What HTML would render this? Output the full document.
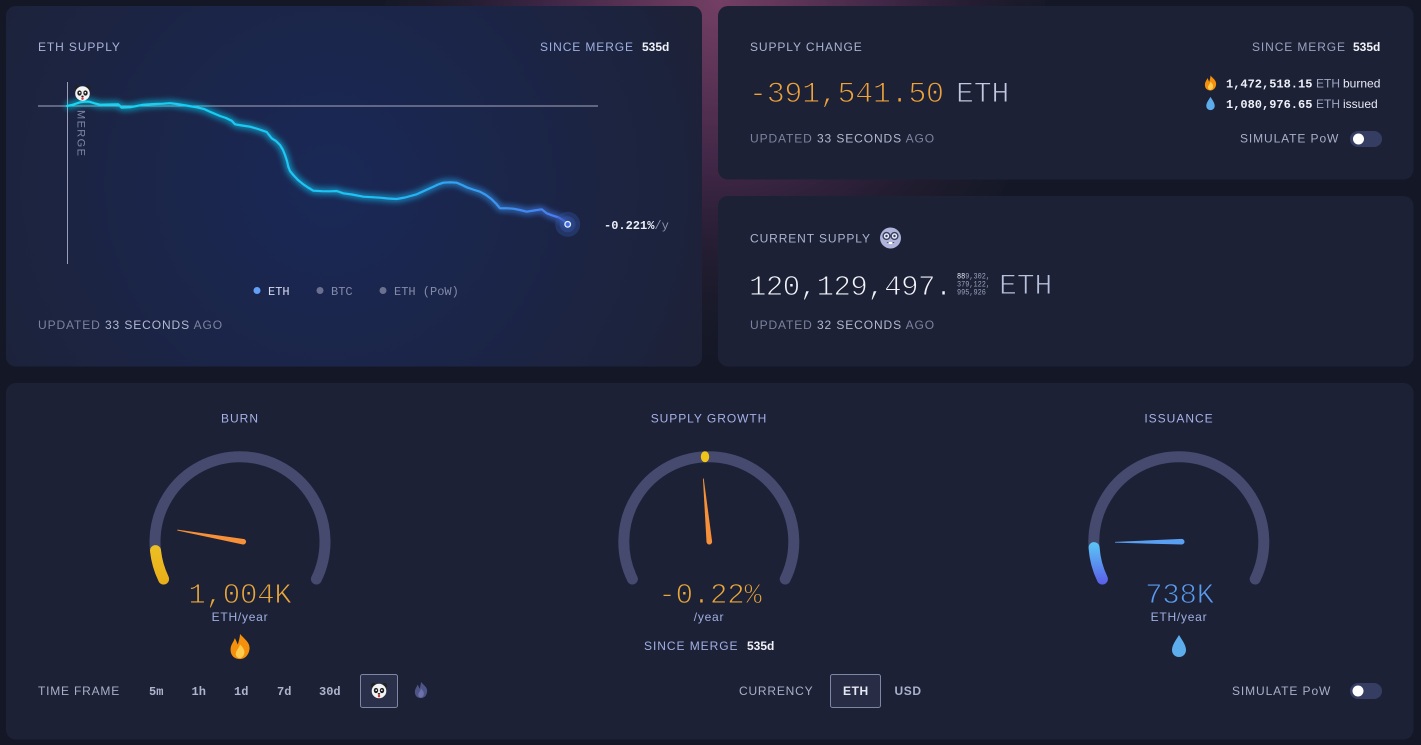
<!DOCTYPE html>
<html><head><meta charset="utf-8"><style>
html,body{margin:0;padding:0;background:#141826;width:1421px;height:745px;overflow:hidden}
svg{display:block}
.s{font-family:"Liberation Sans",sans-serif}
.m{font-family:"Liberation Mono",monospace}
</style></head><body>
<svg width="1421" height="745" viewBox="0 0 1421 745" xmlns="http://www.w3.org/2000/svg">
<defs>
<radialGradient id="pink" cx="720" cy="0" r="380" gradientUnits="userSpaceOnUse">
<stop offset="0" stop-color="#743f64"/><stop offset="0.45" stop-color="#3f2646"/><stop offset="1" stop-color="#141826" stop-opacity="0"/>
</radialGradient>
<radialGradient id="cardglow" cx="330" cy="185" r="400" gradientUnits="userSpaceOnUse">
<stop offset="0" stop-color="#1a2857"/><stop offset="0.5" stop-color="#1b2548"/><stop offset="1" stop-color="#1d2238"/>
</radialGradient>
<linearGradient id="lineg" x1="67" y1="0" x2="568" y2="0" gradientUnits="userSpaceOnUse">
<stop offset="0" stop-color="#16d6f2"/><stop offset="0.6" stop-color="#1cc2f4"/><stop offset="0.85" stop-color="#3a96f2"/><stop offset="1" stop-color="#4b78f0"/>
</linearGradient>
<linearGradient id="yel" x1="0" y1="585" x2="0" y2="528" gradientUnits="userSpaceOnUse">
<stop offset="0" stop-color="#e9ae18"/><stop offset="1" stop-color="#efc82a"/>
</linearGradient>
<linearGradient id="blu" x1="0" y1="585" x2="0" y2="542" gradientUnits="userSpaceOnUse">
<stop offset="0" stop-color="#5a5ce8"/><stop offset="1" stop-color="#5ac8f6"/>
</linearGradient>
<filter id="glow" x="-10%" y="-40%" width="120%" height="180%">
<feGaussianBlur in="SourceGraphic" stdDeviation="3.5" result="b"/>
<feMerge><feMergeNode in="b"/><feMergeNode in="b"/><feMergeNode in="SourceGraphic"/></feMerge>
</filter>
<g id="fire">
<path d="M0,-12 C4,-7 10,-4 9,3 C8,9 4,12 0,12 C-5,12 -9,9 -9,3 C-9,-2 -6,-4 -5,-8 C-3,-5 -3,-3 -2,-2 C-1,-6 0,-9 0,-12 Z" fill="#f4900c"/>
<path d="M0,-2 C3,1 5,4 4,7 C3,10 1,11 0,11 C-2,11 -4,10 -4,7 C-4,4 -1,2 0,-2Z" fill="#ffcc4d"/>
</g>
<path id="drop" d="M0,-11 C3,-6 7,-1 7,4 C7,8 4,11 0,11 C-4,11 -7,8 -7,4 C-7,-1 -3,-6 0,-11Z" fill="#5dadec"/>
<g id="panda">
<circle cx="-5.5" cy="-5.5" r="2.6" fill="#222"/>
<circle cx="5.5" cy="-5.5" r="2.6" fill="#222"/>
<circle cx="0" cy="0" r="7.3" fill="#f4f4f4"/>
<ellipse cx="-3" cy="-0.5" rx="2.2" ry="2.6" fill="#222"/>
<ellipse cx="3" cy="-0.5" rx="2.2" ry="2.6" fill="#222"/>
<circle cx="-2.8" cy="-0.8" r="0.8" fill="#fff"/>
<circle cx="2.8" cy="-0.8" r="0.8" fill="#fff"/>
<ellipse cx="0" cy="2.8" rx="1.3" ry="0.8" fill="#222"/>
<ellipse cx="0" cy="5" rx="1.2" ry="1.4" fill="#e0303a"/>
</g>
</defs>

<!-- page background -->
<rect width="1421" height="745" fill="#141826"/>
<ellipse cx="715" cy="0" rx="330" ry="390" fill="url(#pink)"/>

<!-- cards -->
<rect x="6" y="6" width="696" height="360.5" rx="10" fill="url(#cardglow)"/>
<rect x="718" y="6" width="695.5" height="173.5" rx="10" fill="#1c2136"/>
<rect x="718" y="196" width="695.5" height="170.5" rx="10" fill="#1c2136"/>
<rect x="6" y="383" width="1407.5" height="356.5" rx="10" fill="#1c2136"/>

<!-- ===== ETH SUPPLY CARD ===== -->
<text x="38" y="51" class="s" font-size="12" fill="#aab3d8" style="letter-spacing:0.9px">ETH SUPPLY</text>
<text x="540" y="51" class="s" font-size="12" fill="#9fb0e0" style="letter-spacing:0.9px">SINCE MERGE</text>
<text x="642" y="51" class="s" font-size="12" font-weight="bold" fill="#f0f2f8">535d</text>

<line x1="38" y1="106" x2="598" y2="106" stroke="#a4a8bc" stroke-width="1"/>
<line x1="67.5" y1="82" x2="67.5" y2="264" stroke="#9a9eb6" stroke-width="1"/>
<text transform="translate(77.5,110) rotate(90)" class="s" font-size="11" fill="#7e86a6" style="letter-spacing:1.4px">MERGE</text>

<path filter="url(#glow)" fill="none" stroke="url(#lineg)" stroke-width="2.2" stroke-linejoin="round" stroke-linecap="round"
d="M67,106 L72,105 L80,102.3 L85,101.5 L89.3,101.7 L95,103.5 L100,104.7 L110,104.5 L118.3,104.3 L121.7,107.7 L130,107.3 L143.3,104.7 L155,104 L163.3,103.7 L170,103.2 L176.7,104 L186,105.5 L196.7,107.3 L204,109 L210,111.7 L220,116 L226,118 L231.7,120.7 L235,124.3 L242,125.5 L250,126.7 L258,129 L266.7,132 L271.7,138.3 L276,141 L280,145 L283,150 L285,155 L287,161 L288.3,166.7 L290,171 L293.3,175 L298,180 L303.3,184.3 L308,187.5 L313.3,190.7 L322,191.2 L330,191.3 L336.7,191 L343.3,193.3 L352,194.5 L363.3,196.7 L372,197.2 L380,197.7 L388,198.5 L396.7,199 L405,197.5 L416.7,194.3 L425,190.5 L433.3,186.7 L438,184.5 L443.3,182.7 L450,182.3 L456.7,182.7 L462,185 L466.7,187.3 L473,189.5 L480,191.7 L486,195 L491.7,199.3 L496,203.5 L500,208.3 L506,208.2 L513.3,208.7 L520,210 L526.7,211.7 L534,210.5 L541.7,209.3 L546.7,213.3 L552,215.3 L558.3,217.3 L563,220 L567.7,224.3"/>
<circle cx="567.7" cy="224.3" r="12.5" fill="#3557a8" fill-opacity="0.35"/>
<circle cx="567.7" cy="224.3" r="8" fill="#3a5cb0" fill-opacity="0.35"/>
<circle cx="567.7" cy="224.3" r="2.8" fill="#3f6ee0" stroke="#e6ecff" stroke-width="1.3"/>

<use href="#panda" x="82.5" y="93.5"/>

<text x="604" y="229" class="m" font-size="12"><tspan font-weight="bold" fill="#eef0f8">-0.221%</tspan><tspan fill="#8a92ac">/y</tspan></text>

<circle cx="257" cy="290.5" r="3.5" fill="#62a0f8"/>
<text x="268" y="295" class="m" font-size="12" fill="#d4daf0">ETH</text>
<circle cx="320" cy="290.5" r="3.5" fill="#6a7090"/>
<text x="331" y="295" class="m" font-size="12" fill="#848ba8">BTC</text>
<circle cx="383" cy="290.5" r="3.5" fill="#6a7090"/>
<text x="394" y="295" class="m" font-size="12" fill="#848ba8">ETH (PoW)</text>

<text x="38" y="329" class="s" font-size="12" style="letter-spacing:0.9px"><tspan fill="#7d839e">UPDATED </tspan><tspan fill="#b3b9d0">33 SECONDS </tspan><tspan fill="#7d839e">AGO</tspan></text>

<!-- ===== SUPPLY CHANGE CARD ===== -->
<text x="750" y="51" class="s" font-size="12" fill="#aab3d0" style="letter-spacing:0.9px">SUPPLY CHANGE</text>
<text x="1252" y="51" class="s" font-size="12" fill="#9aa2c0" style="letter-spacing:0.9px">SINCE MERGE</text>
<text x="1353" y="51" class="s" font-size="12" font-weight="bold" fill="#f0f2f8">535d</text>

<text x="749" y="102" class="m" font-size="30" fill="#eea33a" stroke="#1c2136" stroke-width="1" style="letter-spacing:-0.3px">-391,541.50</text>
<text x="956" y="102" class="m" font-size="30" fill="#c2c8e0" stroke="#1c2136" stroke-width="1" style="letter-spacing:-0.3px">ETH</text>

<use href="#fire" transform="translate(1210.5,83) scale(0.62)"/>
<text x="1226" y="87.5" class="m" font-size="12" font-weight="bold" fill="#eef0f8">1,472,518.15</text>
<text x="1316" y="87.5" class="s" font-size="12" fill="#a0a8c4">ETH</text>
<text x="1343" y="87.5" class="s" font-size="12" fill="#e8eaf4">burned</text>
<use href="#drop" transform="translate(1210.5,103.5) scale(0.6)"/>
<text x="1226" y="108" class="m" font-size="12" font-weight="bold" fill="#eef0f8">1,080,976.65</text>
<text x="1316" y="108" class="s" font-size="12" fill="#a0a8c4">ETH</text>
<text x="1343" y="108" class="s" font-size="12" fill="#e8eaf4">issued</text>

<text x="750" y="142.5" class="s" font-size="12" style="letter-spacing:0.9px"><tspan fill="#7d839e">UPDATED </tspan><tspan fill="#b3b9d0">33 SECONDS </tspan><tspan fill="#7d839e">AGO</tspan></text>

<text x="1240" y="142.5" class="s" font-size="12" fill="#a9afc8" style="letter-spacing:0.9px">SIMULATE PoW</text>
<rect x="1350" y="131" width="32" height="16" rx="8" fill="#353e62"/>
<circle cx="1358.5" cy="139" r="5.5" fill="#ffffff"/>

<!-- ===== CURRENT SUPPLY CARD ===== -->
<text x="750" y="242.5" class="s" font-size="12" fill="#aab3d0" style="letter-spacing:0.9px">CURRENT SUPPLY</text>
<g transform="translate(890.5,238)">
<circle r="10.5" fill="#aeb4da"/>
<circle cx="-4" cy="-2" r="3.4" fill="#e8ecff" stroke="#3a3f5a" stroke-width="1.4"/>
<circle cx="4" cy="-2" r="3.4" fill="#e8ecff" stroke="#3a3f5a" stroke-width="1.4"/>
<circle cx="-4" cy="-2" r="1.2" fill="#3a3f5a"/>
<circle cx="4" cy="-2" r="1.2" fill="#3a3f5a"/>
<path d="M-4,4 Q0,8 4,4 Z" fill="#3a3f5a"/>
<rect x="-2" y="4" width="4" height="2" fill="#fff"/>
</g>

<text x="749" y="295" class="m" font-size="29" fill="#f2f4fa" stroke="#1c2136" stroke-width="0.9" style="letter-spacing:-0.5px">120,129,497.</text>
<g transform="translate(957,0) scale(0.86,1)">
<text x="0" y="278.5" class="m" font-size="8" fill="#9aa0bc"><tspan fill="#e8eaf4">88</tspan>9,302,</text>
<text x="0" y="286.5" class="m" font-size="8" fill="#9aa0bc">379,122,</text>
<text x="0" y="294.5" class="m" font-size="8" fill="#9aa0bc">995,926</text>
</g>
<text x="999" y="294" class="m" font-size="30" fill="#b8c0dc" stroke="#1c2136" stroke-width="1" style="letter-spacing:-0.3px">ETH</text>

<text x="750" y="329" class="s" font-size="12" style="letter-spacing:0.9px"><tspan fill="#7d839e">UPDATED </tspan><tspan fill="#b3b9d0">32 SECONDS </tspan><tspan fill="#7d839e">AGO</tspan></text>

<!-- ===== GAUGES ===== -->
<!-- Burn -->
<text x="240" y="422.5" text-anchor="middle" class="s" font-size="12" fill="#a5b1e8" style="letter-spacing:1px">BURN</text>
<path d="M163.6,579 A85,85 0 1 1 316.4,579" fill="none" stroke="#464a6f" stroke-width="11" stroke-linecap="round"/>
<path d="M163.6,579 A85,85 0 0 1 155.5,550.6" fill="none" stroke="url(#yel)" stroke-width="11" stroke-linecap="round"/>
<g transform="translate(243.3,541.7) rotate(190)">
<path d="M0,-2.8 L67,-0.4 L67,0.4 L0,2.8 A2.8,2.8 0 0 1 0,-2.8Z" fill="#f79038"/>
</g>
<text x="240" y="603" text-anchor="middle" class="m" font-size="29" fill="#e9a73a" stroke="#1c2136" stroke-width="0.9" style="letter-spacing:-0.2px">1,004K</text>
<text x="240" y="621" text-anchor="middle" class="s" font-size="12" fill="#9fb0e2" style="letter-spacing:0.75px">ETH/year</text>
<use href="#fire" transform="translate(240,646.5) scale(1.05)"/>

<!-- Supply growth -->
<text x="709" y="422.5" text-anchor="middle" class="s" font-size="12" fill="#a5b1e8" style="letter-spacing:0.95px">SUPPLY GROWTH</text>
<path d="M632.4,579 A85,85 0 1 1 785.2,579" fill="none" stroke="#464a6f" stroke-width="11" stroke-linecap="round"/>
<ellipse cx="705" cy="456.7" rx="4.2" ry="5.5" fill="#f0c418"/>
<g transform="translate(709.3,541.7) rotate(-95.4)">
<path d="M0,-2.8 L63.5,-0.4 L63.5,0.4 L0,2.8 A2.8,2.8 0 0 1 0,-2.8Z" fill="#f79038"/>
</g>
<text x="710" y="603" text-anchor="middle" class="m" font-size="29" fill="#e9a73a" stroke="#1c2136" stroke-width="0.9" style="letter-spacing:-0.2px">-0.22%</text>
<text x="709" y="621" text-anchor="middle" class="s" font-size="12" fill="#9fb0e2" style="letter-spacing:0.75px">/year</text>
<text x="644" y="650" class="s" font-size="12" fill="#9fb0e2" style="letter-spacing:0.95px">SINCE MERGE</text>
<text x="747" y="650" class="s" font-size="12" font-weight="bold" fill="#f0f2f8">535d</text>

<!-- Issuance -->
<text x="1179" y="422.5" text-anchor="middle" class="s" font-size="12" fill="#a5b1e8" style="letter-spacing:1px">ISSUANCE</text>
<path d="M1102.4,579 A85,85 0 1 1 1255.2,579" fill="none" stroke="#464a6f" stroke-width="11" stroke-linecap="round"/>
<path d="M1102.4,579 A85,85 0 0 1 1094.1,547.6" fill="none" stroke="url(#blu)" stroke-width="11" stroke-linecap="round"/>
<g transform="translate(1181.7,541.7) rotate(179.5)">
<path d="M0,-2.8 L66.7,-0.4 L66.7,0.4 L0,2.8 A2.8,2.8 0 0 1 0,-2.8Z" fill="#5aa0f2"/>
</g>
<text x="1179.5" y="603" text-anchor="middle" class="m" font-size="29" fill="#5a9cf0" stroke="#1c2136" stroke-width="0.9" style="letter-spacing:-0.2px">738K</text>
<text x="1179" y="621" text-anchor="middle" class="s" font-size="12" fill="#9fb0e2" style="letter-spacing:0.75px">ETH/year</text>
<use href="#drop" transform="translate(1179,646)"/>

<!-- ===== BOTTOM CONTROLS ===== -->
<text x="38" y="695" class="s" font-size="12" fill="#a9afc8" style="letter-spacing:0.8px">TIME FRAME</text>
<text x="149" y="695" class="m" font-size="12" font-weight="bold" fill="#aeb4cc">5m</text>
<text x="191.5" y="695" class="m" font-size="12" font-weight="bold" fill="#aeb4cc">1h</text>
<text x="234" y="695" class="m" font-size="12" font-weight="bold" fill="#aeb4cc">1d</text>
<text x="277" y="695" class="m" font-size="12" font-weight="bold" fill="#aeb4cc">7d</text>
<text x="319" y="695" class="m" font-size="12" font-weight="bold" fill="#aeb4cc">30d</text>
<rect x="360.5" y="674.5" width="37" height="33" rx="2" fill="#2a3049" stroke="#7e86a6" stroke-width="1"/>
<use href="#panda" x="379" y="691"/>
<g transform="translate(421,690) scale(0.68)">
<path d="M0,-12 C4,-7 10,-4 9,3 C8,9 4,12 0,12 C-5,12 -9,9 -9,3 C-9,-2 -6,-4 -5,-8 C-3,-5 -3,-3 -2,-2 C-1,-6 0,-9 0,-12 Z" fill="#4f5488"/>
<path d="M0,-2 C3,1 5,4 4,7 C3,10 1,11 0,11 C-2,11 -4,10 -4,7 C-4,4 -1,2 0,-2Z" fill="#6c72a8"/>
</g>

<text x="739" y="695" class="s" font-size="12" fill="#a9afc8" style="letter-spacing:0.8px">CURRENCY</text>
<rect x="830.5" y="674.5" width="50" height="33" rx="2" fill="#282d45" stroke="#7e86a6" stroke-width="1"/>
<text x="843" y="695" class="s" font-size="12" font-weight="bold" fill="#e6e9f4" style="letter-spacing:0.6px">ETH</text>
<text x="894.5" y="695" class="s" font-size="12" font-weight="bold" fill="#aab1cc" style="letter-spacing:0.6px">USD</text>

<text x="1232" y="695" class="s" font-size="12" fill="#a9afc8" style="letter-spacing:0.9px">SIMULATE PoW</text>
<rect x="1350" y="683" width="32" height="16" rx="8" fill="#353e62"/>
<circle cx="1358" cy="691" r="5.5" fill="#ffffff"/>
</svg>
</body></html>
